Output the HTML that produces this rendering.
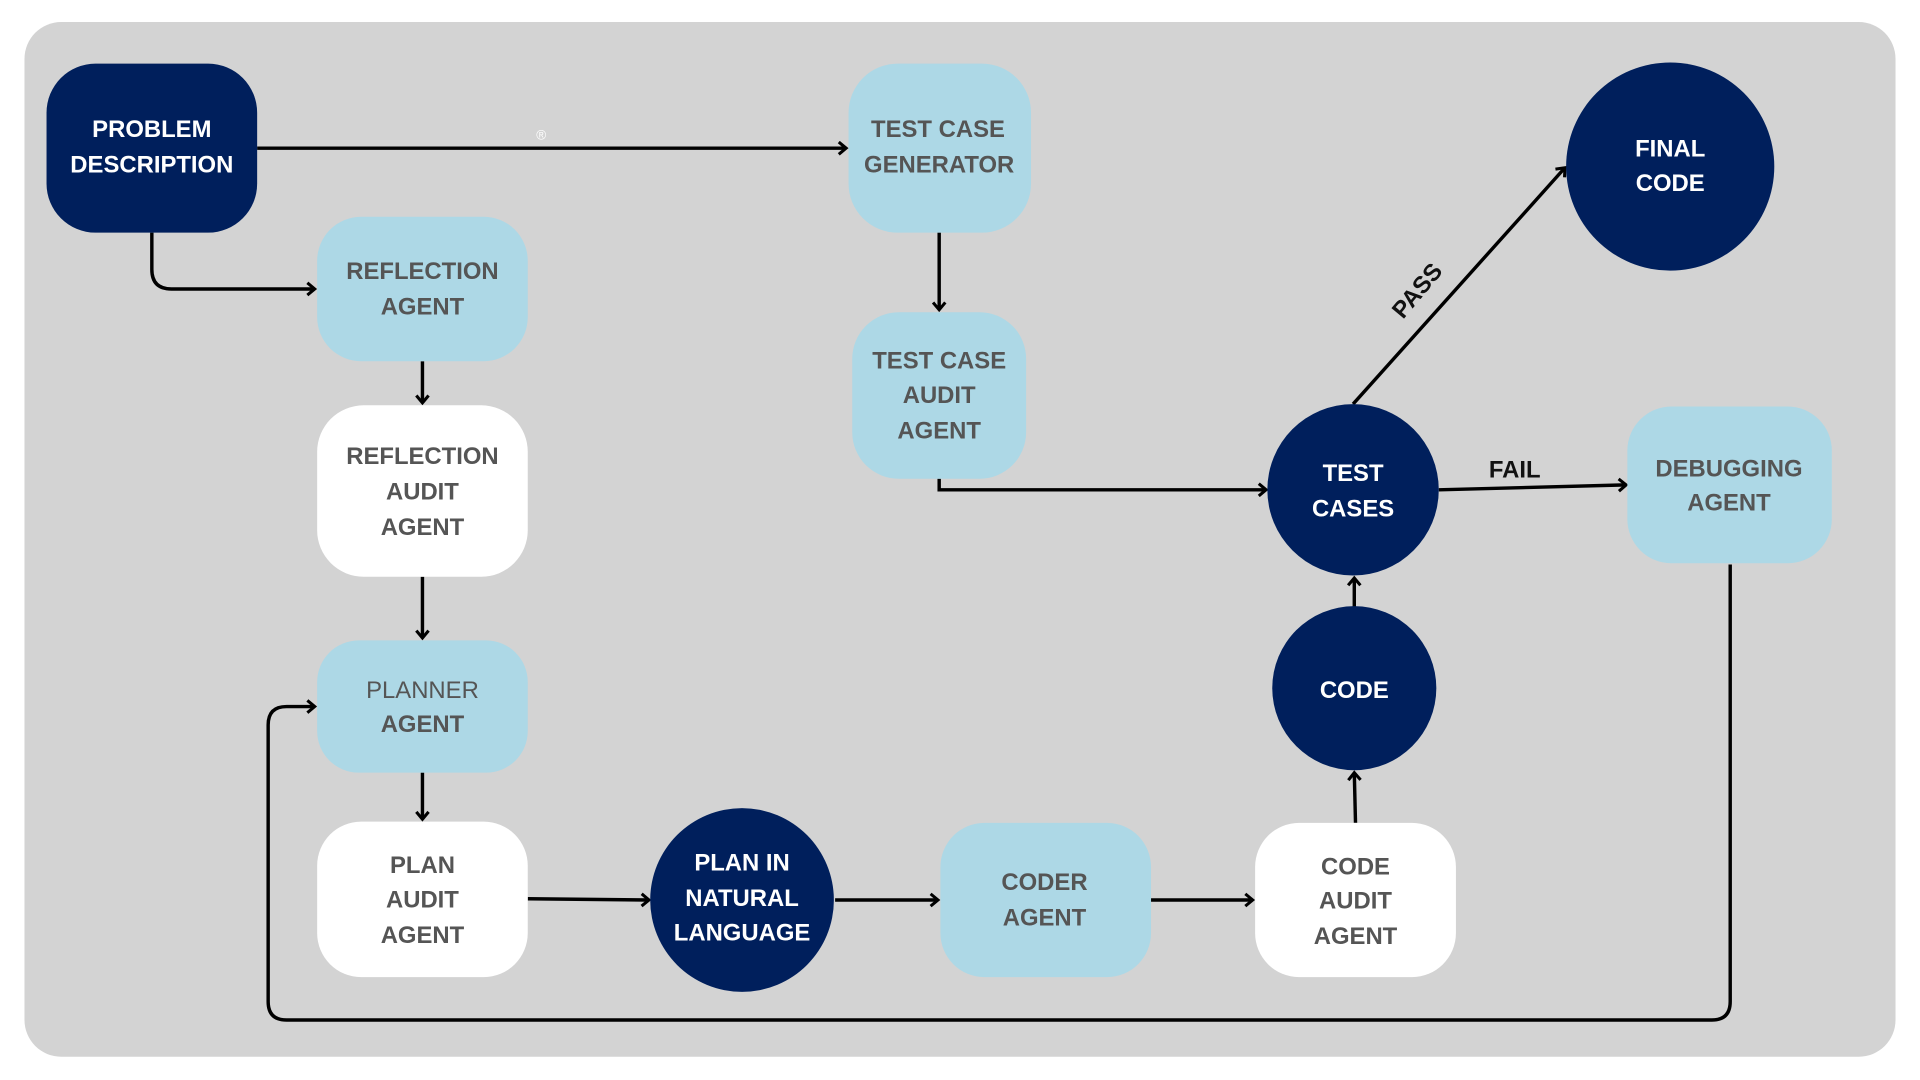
<!DOCTYPE html>
<html><head><style>html,body{margin:0;padding:0;background:#fff}svg{display:block}</style></head><body>
<svg width="1920" height="1080" viewBox="0 0 1568 882" preserveAspectRatio="none" xmlns="http://www.w3.org/2000/svg" font-family="Liberation Sans, sans-serif" font-weight="bold" font-size="19.5" text-anchor="middle">
<defs><marker id="a" markerWidth="12" markerHeight="12" refX="9" refY="6" orient="auto" markerUnits="userSpaceOnUse"><polyline points="3,1 9,6 3,11" fill="none" stroke="#000" stroke-width="2.5"/></marker></defs>
<rect x="20" y="18" width="1528" height="845" rx="30" fill="#d3d3d3"/>
<g fill="none" stroke="#000" stroke-width="2.8" marker-end="url(#a)">
<path d="M210 121H691"/>
<path d="M124 190V220Q124 236 140 236H257"/>
<path d="M345 295V329"/>
<path d="M345 471V521"/>
<path d="M345 631V669"/>
<path d="M431 734L530 735"/>
<path d="M682 735H766"/>
<path d="M940 735H1023"/>
<path d="M1107 672L1106 631"/>
<path d="M1106 496V472"/>
<path d="M767 391V400H1034"/>
<path d="M1175 400L1328 396"/>
<path d="M1105 330L1278 137"/>
<path d="M767 190V253"/>
<path d="M1413 461V818Q1413 833 1398 833H234Q219 833 219 818V592Q219 577 234 577H257"/>
</g>
<text x="442" y="114" font-size="11" fill="#fff" font-weight="normal">®</text>
<rect x="38" y="52" width="172" height="138" rx="40" fill="#001f5c"/>
<rect x="693" y="52" width="149" height="138" rx="40" fill="#add8e6"/>
<rect x="259" y="177" width="172" height="118" rx="36" fill="#add8e6"/>
<rect x="259" y="331" width="172" height="140" rx="38" fill="#fff"/>
<rect x="259" y="523" width="172" height="108" rx="34" fill="#add8e6"/>
<rect x="259" y="671" width="172" height="127" rx="36" fill="#fff"/>
<circle cx="606" cy="735" r="75" fill="#001f5c"/>
<rect x="768" y="672" width="172" height="126" rx="36" fill="#add8e6"/>
<rect x="1025" y="672" width="164" height="126" rx="36" fill="#fff"/>
<circle cx="1106" cy="562" r="67" fill="#001f5c"/>
<circle cx="1105" cy="400" r="70" fill="#001f5c"/>
<circle cx="1364" cy="136" r="85" fill="#001f5c"/>
<rect x="696" y="255" width="142" height="136" rx="38" fill="#add8e6"/>
<rect x="1329" y="332" width="167" height="128" rx="36" fill="#add8e6"/>
<g fill="#fff">
<text x="124" y="112">PROBLEM</text><text x="124" y="141">DESCRIPTION</text>
<text x="606" y="711">PLAN IN</text><text x="606" y="740">NATURAL</text><text x="606" y="768">LANGUAGE</text>
<text x="1106" y="570">CODE</text>
<text x="1105" y="393">TEST</text><text x="1105" y="422">CASES</text>
<text x="1364" y="128">FINAL</text><text x="1364" y="156">CODE</text>
</g>
<g fill="#555">
<text x="766" y="112">TEST CASE</text><text x="767" y="141">GENERATOR</text>
<text x="345" y="228">REFLECTION</text><text x="345" y="257">AGENT</text>
<text x="345" y="379">REFLECTION</text><text x="345" y="408">AUDIT</text><text x="345" y="437">AGENT</text>
<text x="345" y="570" font-weight="normal">PLANNER</text><text x="345" y="598">AGENT</text>
<text x="345" y="713">PLAN</text><text x="345" y="741">AUDIT</text><text x="345" y="770">AGENT</text>
<text x="853" y="727">CODER</text><text x="853" y="756">AGENT</text>
<text x="1107" y="714">CODE</text><text x="1107" y="742">AUDIT</text><text x="1107" y="771">AGENT</text>
<text x="767" y="301">TEST CASE</text><text x="767" y="329">AUDIT</text><text x="767" y="358">AGENT</text>
<text x="1412" y="389">DEBUGGING</text><text x="1412" y="417">AGENT</text>
</g>
<text x="1237" y="390" fill="#111">FAIL</text>
<text x="1157" y="244" fill="#111" transform="rotate(-50 1157 237)">PASS</text>
</svg>
</body></html>
